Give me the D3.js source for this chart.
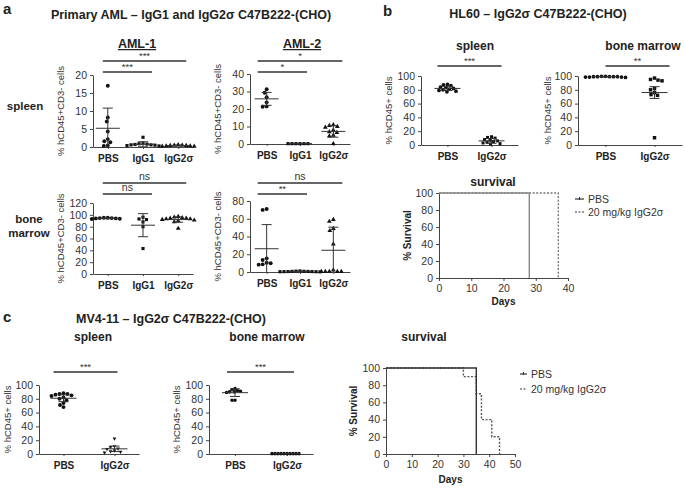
<!DOCTYPE html>
<html><head><meta charset="utf-8">
<script src="https://cdn.jsdelivr.net/npm/d3@7"></script>
<style>body{margin:0;background:#fff} svg{display:block;font-family:"Liberation Sans",Arial,sans-serif}</style>
</head><body><svg id="c" width="685" height="488"></svg>
<script>
// ---------- DATA ----------
const catsA = ["PBS", "IgG1", "IgG2σ"];
const catsB = ["PBS", "IgG2σ"];

// Panel a – AML-1 spleen
const aml1SpleenPBS  = [17, 8.2, 7.1, 4.3, 2.2, 1.6, 1.3, 0.4, 0.3];
const aml1SpleenIgG1 = [2.7, 1.1, 0.9, 0.8, 0.7, 0.6, 0.6, 0.5, 0.4, 0.3];
const aml1SpleenIgG2 = [0.6, 0.5, 0.5, 0.4, 0.4, 0.3, 0.3, 0.2, 0.2];
const aml1SpleenMean = [5.2, 0.75, 0.4];
const aml1SpleenSD   = [5.6, 0.7, 0.15];
// Panel a – AML-2 spleen
const aml2SpleenPBS  = [31.3, 29.3, 26.7, 23.8, 21.5, 21.3];
const aml2SpleenIgG1 = [0.2, 0.2, 0.2, 0.2, 0.2, 0.2];
const aml2SpleenIgG2 = [11, 10.5, 10, 9.5, 8, 7, 6.5, 5, 4.5, 0.2];
const aml2SpleenMean = [25.8, 0.2, 7.2];
const aml2SpleenSD   = [3.7, 0, 3.3];
// Panel a – AML-1 bone marrow
const aml1BmPBS  = [95, 95, 94.5, 94, 94, 93.5, 93, 94.5];
const aml1BmIgG1 = [96, 93, 92, 88, 80, 43];
const aml1BmIgG2 = [97, 96, 95, 94, 94, 93, 93, 92, 91, 90, 88, 77];
const aml1BmMean = [94.2, 82.5, 92];
const aml1BmSD   = [0.8, 19.5, 4.5];
// Panel a – AML-2 bone marrow
const aml2BmPBS  = [71, 70, 15.4, 13.5, 10.5, 9.8, 8.6, 8.3];
const aml2BmIgG1 = [1.2, 1, 0.8, 0.7, 0.6, 0.5, 0.5, 0.4, 0.3, 0.3, 0.2];
const aml2BmIgG2 = [59, 57, 49, 46.5, 31.5, 2.2, 0.6, 0.5, 0.5, 0.4, 0.4];
const aml2BmMean = [26.2, 0.6, 24.5];
const aml2BmSD   = [27.2, 0.3, 26];
// Panel b – HL60
const hlSpleenPBS  = [88, 87, 86, 84, 83, 82, 81, 80, 79, 78, 77];
const hlSpleenIgG2 = [12, 11, 10, 8, 7, 6, 5, 4, 3, 2, 1.5];
const hlSpleenMean = [82, 6];
const hlSpleenSD   = [3, 3.5];
const hlBmPBS  = [99.5, 99.5, 99, 99, 99, 98.5, 98.5, 98, 98.5, 99, 99];
const hlBmIgG2 = [97, 95, 94, 93, 82, 80, 76, 73, 72, 10.5];
const hlBmMean = [99, 76];
const hlBmSD   = [0.5, 8.5];
const hlSurvDaysPBS = [0, 28];
const hlSurvPctPBS  = [100, 0];
const hlSurvDaysIgG = [0, 37];
const hlSurvPctIgG  = [100, 0];
// Panel c – MV4-11
const mvSpleenPBS  = [88, 87, 87, 86, 85, 84, 82, 80, 78, 74, 71, 68];
const mvSpleenIgG2 = [22.5, 11, 10, 8, 7, 5, 4, 3, 2];
const mvSpleenMean = [80.8, 7.5];
const mvSpleenSD   = [5, 4];
const mvBmPBS  = [95, 93, 92, 91, 90, 90, 89, 78, 78];
const mvBmIgG2 = [0.5, 0.5, 0.5, 0.5, 0.5, 0.5, 0.5, 0.5, 0.5, 0.5];
const mvBmMean = [88.9, 0.5];
const mvBmSD   = [5.5, 0];
const mvSurvDaysPBS = [0, 35];
const mvSurvPctPBS  = [100, 0];
const mvSurvDaysIgG = [0, 30, 35, 37, 41, 44];
const mvSurvPctIgG  = [100, 90, 70, 40, 20, 0];

// ---------- DRAWING ----------
const svg = d3.select("#c");
const FONT = '"Liberation Sans", Arial, sans-serif';

function text(x, y, s, o = {}) {
  const t = svg.append("text").attr("x", x).attr("y", y).text(s)
    .attr("font-family", FONT)
    .attr("font-size", o.size || 11)
    .attr("font-weight", o.bold ? "bold" : "normal")
    .attr("text-anchor", o.anchor || "middle")
    .attr("fill", o.fill || "#222");
  if (o.rotate) t.attr("transform", `rotate(-90,${x},${y})`);
  if (o.underline) t.attr("text-decoration", "underline");
  return t;
}

function dodge(values, y, sep) {
  const order = values.map((v, i) => i).sort((a, b) => values[b] - values[a]);
  const placed = [], offs = new Array(values.length);
  for (const i of order) {
    const yy = y(values[i]);
    let best = 0;
    for (let k = 0; k < 400; k++) {
      const dx = (k % 2 === 0 ? 1 : -1) * Math.ceil(k / 2) * 0.5;
      if (placed.every(p => (p.x - dx) ** 2 + (p.y - yy) ** 2 >= sep * sep)) { best = dx; break; }
    }
    placed.push({ x: best, y: yy });
    offs[i] = best;
  }
  return offs;
}

function styleAxis(a, size) {
  a.select(".domain").attr("stroke", "#444").attr("stroke-width", 1);
  a.selectAll(".tick line").attr("stroke", "#444");
  a.selectAll(".tick text").attr("font-family", FONT).attr("font-size", size).attr("fill", "#333");
}

function scatter(c) {
  const x = d3.scalePoint().domain(c.cats).range([c.left, c.right]).padding(c.pad);
  const y = d3.scaleLinear().domain([0, c.max]).range([c.bottom, c.top]);
  const g = svg.append("g");
  g.append("g").attr("transform", `translate(${c.left},0)`)
    .call(d3.axisLeft(y).tickValues(d3.range(0, c.max + 0.001, c.step)).tickSize(3).tickSizeOuter(0).tickPadding(3))
    .call(a => styleAxis(a, 10.5));
  g.append("g").attr("transform", `translate(0,${c.bottom})`)
    .call(d3.axisBottom(x).tickSize(2).tickSizeOuter(0).tickPadding(6))
    .call(a => { styleAxis(a, 10); a.selectAll(".tick text").attr("font-weight", "bold").attr("fill", "#222"); });
  // points
  c.groups.forEach((vals, gi) => {
    const cx = x(c.cats[gi]);
    const offs = dodge(vals, y, c.sep || 4);
    const shape = c.shapes[gi];
    const size = shape === d3.symbolCircle ? (c.symSize || 12) : (c.symSize2 || 10);
    const sym = d3.symbol().type(shape).size(size);
    g.selectAll(null).data(vals).join("path")
      .attr("d", sym)
      .attr("transform", (d, i) => `translate(${cx + offs[i]},${y(d)})${shape === d3.symbolTriangle2 && c.flipTri ? " rotate(180)" : ""}`)
      .attr("fill", "#111");
  });
  // mean ± SD
  c.means.forEach((m, gi) => {
    const cx = x(c.cats[gi]);
    const sd = c.sds[gi];
    const lo = Math.max(0, m - sd), hi = Math.min(c.max, m + sd);
    const mw = c.meanW || 24, cw = c.capW || 10;
    g.append("line").attr("x1", cx - mw / 2).attr("x2", cx + mw / 2).attr("y1", y(m)).attr("y2", y(m)).attr("stroke", "#333").attr("stroke-width", 1);
    if (sd > 0) {
      g.append("line").attr("x1", cx).attr("x2", cx).attr("y1", y(lo)).attr("y2", y(hi)).attr("stroke", "#333").attr("stroke-width", 1);
      g.append("line").attr("x1", cx - cw / 2).attr("x2", cx + cw / 2).attr("y1", y(hi)).attr("y2", y(hi)).attr("stroke", "#333").attr("stroke-width", 1);
      if (m - sd > 0) g.append("line").attr("x1", cx - cw / 2).attr("x2", cx + cw / 2).attr("y1", y(lo)).attr("y2", y(lo)).attr("stroke", "#333").attr("stroke-width", 1);
    }
  });
  // significance bars
  (c.sig || []).forEach(s => {
    const x1 = x(c.cats[s.a]) + s.d1, x2 = x(c.cats[s.b]) + s.d2;
    g.append("line").attr("x1", x1).attr("x2", x2).attr("y1", s.y).attr("y2", s.y).attr("stroke", "#333").attr("stroke-width", 1.6);
    const ns = s.label === "ns";
    text((x1 + x2) / 2, s.y - (ns ? 3 : 2.5), s.label, { size: ns ? 10.5 : 9.5, fill: "#333" });
  });
  // y label
  text(c.ylx, (c.top + c.bottom) / 2, c.ylabel, { size: 9.5, rotate: true, fill: "#333" });
}

function survival(c) {
  const x = d3.scaleLinear().domain([0, c.xmax]).range([c.left, c.right]);
  const y = d3.scaleLinear().domain([0, 100]).range([c.bottom, c.top]);
  const g = svg.append("g");
  g.append("g").attr("transform", `translate(${c.left},0)`)
    .call(d3.axisLeft(y).tickValues(d3.range(0, 101, 20)).tickSize(3).tickSizeOuter(0).tickPadding(3))
    .call(a => styleAxis(a, 10.5));
  g.append("g").attr("transform", `translate(0,${c.bottom})`)
    .call(d3.axisBottom(x).tickValues(d3.range(0, c.xmax + 0.1, 10)).tickSize(3).tickSizeOuter(0).tickPadding(4))
    .call(a => styleAxis(a, 10.5));
  const line = d3.line().x(d => x(d[0])).y(d => y(d[1])).curve(d3.curveStepAfter);
  const igg = c.daysIgG.map((d, i) => [d, c.pctIgG[i]]);
  const pbs = c.daysPBS.map((d, i) => [d, c.pctPBS[i]]);
  g.append("path").attr("d", line(igg)).attr("fill", "none").attr("stroke", c.dashCol).attr("stroke-width", 1.4).attr("stroke-dasharray", "2,1.6");
  g.append("path").attr("d", line(pbs)).attr("fill", "none").attr("stroke", c.pbsCol).attr("stroke-width", 1.4);
  // legend
  const L = c.legend;
  g.append("line").attr("x1", L.x).attr("x2", L.x + L.w).attr("y1", L.y1).attr("y2", L.y1).attr("stroke", "#333").attr("stroke-width", 1.2);
  g.append("line").attr("x1", L.x + L.w / 2).attr("x2", L.x + L.w / 2).attr("y1", L.y1 - 2).attr("y2", L.y1 + 1).attr("stroke", "#333").attr("stroke-width", 1);
  g.append("line").attr("x1", L.x).attr("x2", L.x + L.w).attr("y1", L.y2).attr("y2", L.y2).attr("stroke", "#333").attr("stroke-width", 1.2).attr("stroke-dasharray", "2,1.5");
  text(L.x + L.w + 4, L.y1 + 4, "PBS", { size: 10.5, anchor: "start", fill: "#333" });
  text(L.x + L.w + 4, L.y2 + 4, "20 mg/kg IgG2σ", { size: 10.5, anchor: "start", fill: "#333" });
  text(c.ylx, (c.top + c.bottom) / 2, "% Survival", { size: 10, bold: true, rotate: true });
  text((c.left + c.right) / 2, c.daysY, "Days", { size: 10, bold: true });
  text(c.titleX, c.titleY, "survival", { size: 12, bold: true });
}

const circ = d3.symbolCircle, sq = d3.symbolSquare, tri = d3.symbolTriangle;

// ---- Panel a ----
text(3, 14, "a", { size: 15, bold: true, anchor: "start" });
text(191, 19, "Primary AML – IgG1 and IgG2σ C47B222-(CHO)", { size: 12.5, bold: true });
text(137, 48, "AML-1", { size: 12.5, bold: true, underline: true });
text(302, 48, "AML-2", { size: 12.5, bold: true, underline: true });
text(25, 110, "spleen", { size: 11.5, bold: true });
text(29, 223, "bone", { size: 11.5, bold: true });
text(29, 237, "marrow", { size: 11.5, bold: true });

const ylA = "% hCD45+CD3- cells";
scatter({ left: 93, right: 193, top: 75, bottom: 147, cats: catsA, pad: 0.42, max: 20, step: 5,
  groups: [aml1SpleenPBS, aml1SpleenIgG1, aml1SpleenIgG2], shapes: [circ, sq, tri],
  means: aml1SpleenMean, sds: aml1SpleenSD, ylabel: ylA, ylx: 64,
  sig: [{ a: 0, b: 2, y: 61, label: "***", d1: -5, d2: 8 }, { a: 0, b: 1, y: 72, label: "***", d1: -5, d2: 9 }] });
scatter({ left: 250, right: 350, top: 74, bottom: 144, cats: catsA, pad: 0.5, max: 40, step: 10,
  groups: [aml2SpleenPBS, aml2SpleenIgG1, aml2SpleenIgG2], shapes: [circ, sq, tri],
  means: aml2SpleenMean, sds: aml2SpleenSD, ylabel: ylA, ylx: 221,
  sig: [{ a: 0, b: 2, y: 61, label: "*", d1: -9, d2: 9 }, { a: 0, b: 1, y: 72, label: "*", d1: -9, d2: 7 }] });
scatter({ left: 93, right: 193, top: 203, bottom: 274, cats: catsA, pad: 0.42, max: 120, step: 20,
  groups: [aml1BmPBS, aml1BmIgG1, aml1BmIgG2], shapes: [circ, sq, tri],
  means: aml1BmMean, sds: aml1BmSD, ylabel: ylA, ylx: 64,
  sig: [{ a: 0, b: 2, y: 183, label: "ns", d1: -5, d2: 8 }, { a: 0, b: 1, y: 194, label: "ns", d1: -5, d2: 9 }] });
scatter({ left: 250, right: 350, top: 201, bottom: 272, cats: catsA, pad: 0.5, max: 80, step: 20,
  groups: [aml2BmPBS, aml2BmIgG1, aml2BmIgG2], shapes: [circ, sq, tri],
  means: aml2BmMean, sds: aml2BmSD, ylabel: ylA, ylx: 221,
  sig: [{ a: 0, b: 2, y: 183, label: "ns", d1: -9, d2: 9 }, { a: 0, b: 1, y: 194, label: "**", d1: -9, d2: 7 }] });

// ---- Panel b ----
text(383, 16, "b", { size: 15, bold: true, anchor: "start" });
text(538, 18, "HL60 – IgG2σ C47B222-(CHO)", { size: 12.5, bold: true });
text(475, 50, "spleen", { size: 12, bold: true });
text(643, 50, "bone marrow", { size: 12, bold: true });
const ylB = "% hCD45+ cells";
scatter({ left: 421, right: 518, top: 76, bottom: 145, cats: catsB, pad: 0.6, max: 100, step: 20,
  groups: [hlSpleenPBS, hlSpleenIgG2], shapes: [circ, sq], sep: 3.6, symSize: 11, symSize2: 9,
  means: hlSpleenMean, sds: hlSpleenSD, ylabel: ylB, ylx: 392, meanW: 26,
  sig: [{ a: 0, b: 1, y: 66, label: "***", d1: -10, d2: 10 }] });
scatter({ left: 578, right: 682, top: 76, bottom: 145, cats: catsB, pad: 0.56, max: 100, step: 20,
  groups: [hlBmPBS, hlBmIgG2], shapes: [circ, sq], sep: 4, symSize: 11, symSize2: 12,
  means: hlBmMean, sds: hlBmSD, ylabel: ylB, ylx: 551, meanW: 26,
  sig: [{ a: 0, b: 1, y: 66, label: "**", d1: 0, d2: 15 }] });
survival({ left: 439, right: 568, top: 193, bottom: 278, xmax: 40,
  daysPBS: hlSurvDaysPBS, pctPBS: hlSurvPctPBS, daysIgG: hlSurvDaysIgG, pctIgG: hlSurvPctIgG,
  pbsCol: "#888", dashCol: "#777", ylx: 411, daysY: 305, titleX: 493, titleY: 186,
  legend: { x: 575, w: 9, y1: 199, y2: 212 } });

// ---- Panel c ----
text(3, 322, "c", { size: 15, bold: true, anchor: "start" });
text(171, 323, "MV4-11 – IgG2σ C47B222-(CHO)", { size: 12.5, bold: true });
text(93, 341, "spleen", { size: 12, bold: true });
text(267, 341, "bone marrow", { size: 12, bold: true });
scatter({ left: 39, right: 139, top: 385, bottom: 454, cats: catsB, pad: 0.48, max: 100, step: 20,
  groups: [mvSpleenPBS, mvSpleenIgG2], shapes: [circ, d3.symbolTriangle2], flipTri: true, sep: 4, symSize: 12, symSize2: 10,
  means: mvSpleenMean, sds: mvSpleenSD, ylabel: ylB, ylx: 11, meanW: 26,
  sig: [{ a: 0, b: 1, y: 372, label: "***", d1: -10, d2: 3 }] });
scatter({ left: 209, right: 313, top: 385, bottom: 454, cats: catsB, pad: 0.5, max: 100, step: 20,
  groups: [mvBmPBS, mvBmIgG2], shapes: [circ, circ], sep: 3, symSize: 10,
  means: mvBmMean, sds: mvBmSD, ylabel: ylB, ylx: 180, meanW: 26,
  sig: [{ a: 0, b: 1, y: 372, label: "***", d1: -8, d2: 7 }] });
survival({ left: 386, right: 515, top: 368, bottom: 454, xmax: 50,
  daysPBS: mvSurvDaysPBS, pctPBS: mvSurvPctPBS, daysIgG: mvSurvDaysIgG, pctIgG: mvSurvPctIgG,
  pbsCol: "#333", dashCol: "#555", ylx: 357, daysY: 483, titleX: 424, titleY: 341,
  legend: { x: 520, w: 7, y1: 374, y2: 389 } });
</script></body></html>
